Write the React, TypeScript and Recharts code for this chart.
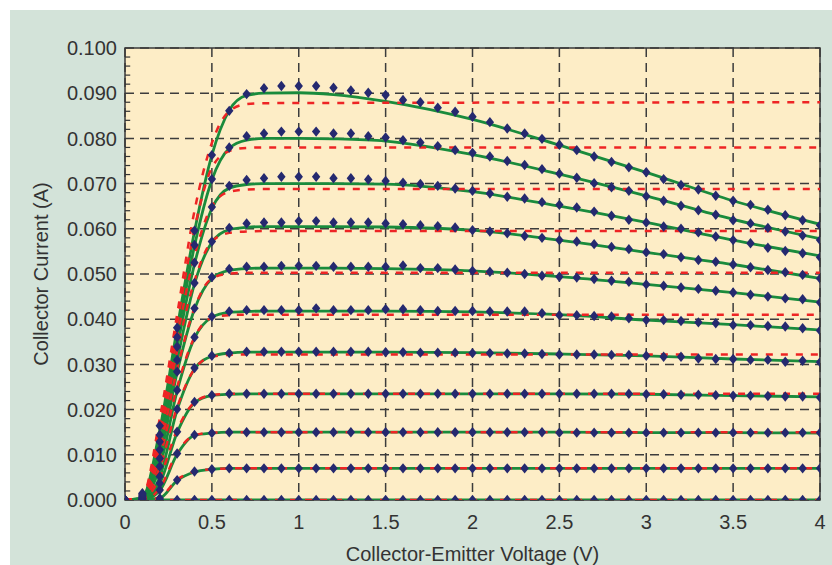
import {
  ComposedChart, Line, Scatter, XAxis, YAxis, CartesianGrid, ReferenceArea, ReferenceLine,
} from 'recharts';

// measured points, every 0.1 V
const VCE = [
  0, 0.1, 0.2, 0.3, 0.4, 0.5, 0.6, 0.7, 0.8, 0.9,
  1.0, 1.1, 1.2, 1.3, 1.4, 1.5, 1.6, 1.7, 1.8, 1.9,
  2.0, 2.1, 2.2, 2.3, 2.4, 2.5, 2.6, 2.7, 2.8, 2.9,
  3.0, 3.1, 3.2, 3.3, 3.4, 3.5, 3.6, 3.7, 3.8, 3.9,
  4.0,
];

const MEAS_C10 = [
  0, 0.0015, 0.0164, 0.0381, 0.0596, 0.0763, 0.0861, 0.0898, 0.0911, 0.0916,
  0.0916, 0.0916, 0.0912, 0.0906, 0.0901, 0.0896, 0.0885, 0.0880, 0.0868, 0.0859,
  0.0848, 0.0836, 0.0822, 0.0811, 0.0799, 0.0786, 0.0774, 0.0760, 0.0748, 0.0736,
  0.0725, 0.0710, 0.0697, 0.0687, 0.0673, 0.0662, 0.0653, 0.0642, 0.0630, 0.0619,
  0.0608,
];
const MEAS_C9 = [
  0, 0.0013, 0.0144, 0.0360, 0.0564, 0.0710, 0.0780, 0.0805, 0.0811, 0.0815,
  0.0815, 0.0815, 0.0811, 0.0811, 0.0805, 0.0802, 0.0796, 0.0791, 0.0783, 0.0774,
  0.0768, 0.0760, 0.0750, 0.0741, 0.0732, 0.0722, 0.0713, 0.0701, 0.0692, 0.0684,
  0.0672, 0.0662, 0.0651, 0.0641, 0.0631, 0.0619, 0.0612, 0.0602, 0.0594, 0.0585,
  0.0575,
];
const MEAS_C8 = [
  0, 0.0011, 0.0129, 0.0339, 0.0525, 0.0648, 0.0695, 0.0708, 0.0712, 0.0715,
  0.0715, 0.0715, 0.0712, 0.0712, 0.0709, 0.0706, 0.0702, 0.0699, 0.0695, 0.0689,
  0.0684, 0.0678, 0.0671, 0.0667, 0.0659, 0.0653, 0.0647, 0.0638, 0.0629, 0.0620,
  0.0614, 0.0605, 0.0600, 0.0592, 0.0583, 0.0575, 0.0568, 0.0558, 0.0551, 0.0546,
  0.0537,
];
const MEAS_C7 = [
  0, 0.0009, 0.0111, 0.0310, 0.0480, 0.0572, 0.0602, 0.0612, 0.0614, 0.0614,
  0.0617, 0.0617, 0.0614, 0.0614, 0.0614, 0.0612, 0.0610, 0.0608, 0.0606, 0.0603,
  0.0597, 0.0594, 0.0590, 0.0584, 0.0580, 0.0575, 0.0572, 0.0566, 0.0560, 0.0555,
  0.0548, 0.0544, 0.0537, 0.0531, 0.0527, 0.0521, 0.0515, 0.0509, 0.0504, 0.0498,
  0.0490,
];
const MEAS_C6 = [
  0, 0.0007, 0.0092, 0.0284, 0.0424, 0.0493, 0.0511, 0.0516, 0.0516, 0.0518,
  0.0518, 0.0518, 0.0516, 0.0516, 0.0516, 0.0516, 0.0519, 0.0513, 0.0513, 0.0510,
  0.0507, 0.0505, 0.0503, 0.0500, 0.0496, 0.0494, 0.0492, 0.0489, 0.0485, 0.0483,
  0.0477, 0.0474, 0.0470, 0.0467, 0.0463, 0.0459, 0.0454, 0.0450, 0.0446, 0.0444,
  0.0437,
];
const MEAS_C5 = [
  0, 0.0005, 0.0074, 0.0243, 0.0360, 0.0406, 0.0417, 0.0420, 0.0420, 0.0420,
  0.0420, 0.0424, 0.0420, 0.0420, 0.0420, 0.0422, 0.0422, 0.0420, 0.0418, 0.0418,
  0.0418, 0.0417, 0.0417, 0.0417, 0.0413, 0.0409, 0.0409, 0.0407, 0.0406, 0.0402,
  0.0398, 0.0398, 0.0396, 0.0393, 0.0391, 0.0387, 0.0387, 0.0385, 0.0384, 0.0380,
  0.0375,
];
const MEAS_C4 = [
  0, 0.0004, 0.0052, 0.0201, 0.0292, 0.0319, 0.0325, 0.0328, 0.0328, 0.0328,
  0.0328, 0.0328, 0.0328, 0.0328, 0.0328, 0.0327, 0.0327, 0.0326, 0.0326, 0.0326,
  0.0325, 0.0325, 0.0324, 0.0324, 0.0323, 0.0322, 0.0322, 0.0322, 0.0321, 0.0321,
  0.0319, 0.0317, 0.0317, 0.0313, 0.0312, 0.0312, 0.0310, 0.0310, 0.0306, 0.0308,
  0.0305,
];
const MEAS_C3 = [
  0, 0.0003, 0.0037, 0.0151, 0.0217, 0.0232, 0.0235, 0.0235, 0.0235, 0.0235,
  0.0235, 0.0235, 0.0235, 0.0235, 0.0235, 0.0235, 0.0235, 0.0235, 0.0235, 0.0235,
  0.0235, 0.0235, 0.0235, 0.0235, 0.0235, 0.0235, 0.0235, 0.0235, 0.0235, 0.0235,
  0.0234, 0.0234, 0.0233, 0.0233, 0.0232, 0.0231, 0.0231, 0.0230, 0.0229, 0.0229,
  0.0227,
];
const MEAS_C2 = [
  0, 0.0002, 0.0022, 0.0103, 0.0144, 0.0148, 0.0150, 0.0150, 0.0150, 0.0150,
  0.0150, 0.0150, 0.0150, 0.0150, 0.0150, 0.0150, 0.0150, 0.0150, 0.0150, 0.0150,
  0.0150, 0.0150, 0.0150, 0.0150, 0.0150, 0.0149, 0.0149, 0.0149, 0.0149, 0.0149,
  0.0149, 0.0149, 0.0149, 0.0149, 0.0149, 0.0149, 0.0149, 0.0149, 0.0149, 0.0149,
  0.0149,
];
const MEAS_C1 = [
  0, 0.0001, 0.0004, 0.0044, 0.0063, 0.0068, 0.0070, 0.0070, 0.0070, 0.0070,
  0.0070, 0.0070, 0.0070, 0.0070, 0.0070, 0.0070, 0.0070, 0.0070, 0.0070, 0.0070,
  0.0070, 0.0070, 0.0070, 0.0070, 0.0070, 0.0070, 0.0070, 0.0070, 0.0070, 0.0070,
  0.0070, 0.0070, 0.0070, 0.0070, 0.0070, 0.0070, 0.0070, 0.0070, 0.0070, 0.0070,
  0.0070,
];
const MEAS_C0 = [
  0, 0, 0, 0, 0, 0, 0, 0, 0, 0,
  0, 0, 0, 0, 0, 0, 0, 0, 0, 0,
  0, 0, 0, 0, 0, 0, 0, 0, 0, 0,
  0, 0, 0, 0, 0, 0, 0, 0, 0, 0,
  0,
];

// green model curves
const GREEN_VCE = [0, 0.1, 0.2, 0.3, 0.4, 0.5, 0.6, 0.7, 0.8, 1.0, 1.2, 1.5, 2.0, 2.5, 3.0, 3.5, 4.0];
const GREEN_C10 = [0, 0.0005, 0.0155, 0.0380, 0.0594, 0.0763, 0.0862, 0.0895, 0.0900, 0.0901, 0.0897, 0.0882, 0.0842, 0.0785, 0.0725, 0.0662, 0.0610];
const GREEN_C9 = [0, 0.0004, 0.0142, 0.0358, 0.0562, 0.0708, 0.0778, 0.0796, 0.0800, 0.0800, 0.0799, 0.0794, 0.0764, 0.0721, 0.0673, 0.0621, 0.0578];
const GREEN_C8 = [0, 0.0003, 0.0127, 0.0337, 0.0522, 0.0645, 0.0690, 0.0698, 0.0700, 0.0700, 0.0700, 0.0699, 0.0682, 0.0650, 0.0614, 0.0575, 0.0540];
const GREEN_C7 = [0, 0.0003, 0.0110, 0.0308, 0.0478, 0.0570, 0.0598, 0.0603, 0.0605, 0.0605, 0.0605, 0.0604, 0.0597, 0.0575, 0.0548, 0.0521, 0.0490];
const GREEN_C6 = [0, 0.0002, 0.0091, 0.0282, 0.0422, 0.0490, 0.0508, 0.0512, 0.0513, 0.0513, 0.0513, 0.0512, 0.0507, 0.0494, 0.0477, 0.0459, 0.0438];
const GREEN_C5 = [0, 0.0002, 0.0073, 0.0241, 0.0358, 0.0404, 0.0415, 0.0417, 0.0418, 0.0418, 0.0418, 0.0418, 0.0416, 0.0410, 0.0398, 0.0388, 0.0376];
const GREEN_C4 = [0, 0.0001, 0.0051, 0.0199, 0.0290, 0.0318, 0.0325, 0.0327, 0.0327, 0.0327, 0.0327, 0.0327, 0.0326, 0.0323, 0.0319, 0.0312, 0.0306];
const GREEN_C3 = [0, 0.0001, 0.0036, 0.0149, 0.0215, 0.0231, 0.0234, 0.0235, 0.0235, 0.0235, 0.0235, 0.0235, 0.0235, 0.0235, 0.0234, 0.0231, 0.0228];
const GREEN_C2 = [0, 0, 0.0021, 0.0101, 0.0143, 0.0148, 0.0150, 0.0150, 0.0150, 0.0150, 0.0150, 0.0150, 0.0150, 0.0150, 0.0149, 0.0149, 0.0148];
const GREEN_C1 = [0, 0, 0.0004, 0.0043, 0.0062, 0.0068, 0.0070, 0.0070, 0.0070, 0.0070, 0.0070, 0.0070, 0.0070, 0.0070, 0.0070, 0.0070, 0.0070];
const GREEN_C0 = [0, 0, 0, 0, 0, 0, 0, 0, 0, 0, 0, 0, 0, 0, 0, 0, 0];

// red dashed model curves
const RED_VCE = [0, 0.1, 0.2, 0.3, 0.4, 0.5, 0.6, 0.7, 0.8, 4.0];
const RED_C10 = [0, 0.0008, 0.0180, 0.0410, 0.0640, 0.0790, 0.0860, 0.0876, 0.0878, 0.0880];
const RED_C9 = [0, 0.0007, 0.0165, 0.0390, 0.0600, 0.0735, 0.0772, 0.0779, 0.0780, 0.0780];
const RED_C8 = [0, 0.0006, 0.0150, 0.0360, 0.0540, 0.0650, 0.0682, 0.0687, 0.0688, 0.0688];
const RED_C7 = [0, 0.0005, 0.0135, 0.0330, 0.0485, 0.0572, 0.0591, 0.0594, 0.0595, 0.0595];
const RED_C6 = [0, 0.0004, 0.0115, 0.0290, 0.0425, 0.0490, 0.0501, 0.0503, 0.0503, 0.0503];
const RED_C5 = [0, 0.0003, 0.0095, 0.0250, 0.0360, 0.0403, 0.0409, 0.0410, 0.0410, 0.0410];
const RED_C4 = [0, 0.0002, 0.0072, 0.0205, 0.0290, 0.0317, 0.0321, 0.0322, 0.0322, 0.0322];
const RED_C3 = [0, 0.0001, 0.0050, 0.0155, 0.0216, 0.0232, 0.0235, 0.0235, 0.0235, 0.0235];
const RED_C2 = [0, 0, 0.0026, 0.0105, 0.0143, 0.0149, 0.0150, 0.0150, 0.0150, 0.0150];
const RED_C1 = [0, 0, 0.0006, 0.0045, 0.0063, 0.0068, 0.0070, 0.0070, 0.0070, 0.0070];
const RED_C0 = [0, 0, 0, 0, 0, 0, 0, 0, 0, 0];

const X_TICKS = [0, 0.5, 1, 1.5, 2, 2.5, 3, 3.5, 4];
const Y_TICKS = [0, 0.01, 0.02, 0.03, 0.04, 0.05, 0.06, 0.07, 0.08, 0.09, 0.1];
const Y_MINOR = [
  0.002, 0.004, 0.006, 0.008, 0.012, 0.014, 0.016, 0.018,
  0.022, 0.024, 0.026, 0.028, 0.032, 0.034, 0.036, 0.038,
  0.042, 0.044, 0.046, 0.048, 0.052, 0.054, 0.056, 0.058,
  0.062, 0.064, 0.066, 0.068, 0.072, 0.074, 0.076, 0.078,
  0.082, 0.084, 0.086, 0.088, 0.092, 0.094, 0.096, 0.098,
];
const MINOR_TICK_LEN = 0.03; // in volts, a few px into the plot

const MEAS = [MEAS_C0, MEAS_C1, MEAS_C2, MEAS_C3, MEAS_C4, MEAS_C5, MEAS_C6, MEAS_C7, MEAS_C8, MEAS_C9, MEAS_C10];
const GREEN = [GREEN_C0, GREEN_C1, GREEN_C2, GREEN_C3, GREEN_C4, GREEN_C5, GREEN_C6, GREEN_C7, GREEN_C8, GREEN_C9, GREEN_C10];
const RED = [RED_C0, RED_C1, RED_C2, RED_C3, RED_C4, RED_C5, RED_C6, RED_C7, RED_C8, RED_C9, RED_C10];

const toPoints = (xs: number[], ys: number[]) => xs.map((x, i) => ({ x, y: ys[i] }));

const FONT = '"Liberation Sans", Arial, Helvetica, sans-serif';

const Diamond = (props: any) => {
  const { cx, cy } = props;
  if (cx == null || cy == null) return null;
  return (
    <polygon
      points={`${cx},${cy - 5.2} ${cx + 4.2},${cy} ${cx},${cy + 5.2} ${cx - 4.2},${cy}`}
      fill="#25296f"
    />
  );
};

export default function App() {
  return (
    <div style={{ position: 'absolute', left: 0, top: 0, width: 832, height: 565, background: '#fff', overflow: 'hidden' }}>
      <div style={{ position: 'absolute', left: 10, top: 10, width: 822, height: 555, background: '#d3e3d9' }}>
        <ComposedChart width={822} height={555} margin={{ top: 38, right: 12, bottom: 0, left: 0 }}>
          <CartesianGrid
            fill="#fdedc6"
            stroke="#3c3c3c"
            strokeDasharray="9 6"
            strokeWidth={1.5}
          />
          <XAxis
            type="number"
            dataKey="x"
            domain={[0, 4]}
            ticks={X_TICKS}
            allowDataOverflow
            height={65}
            tickSize={0}
            tickMargin={15}
            axisLine={false}
            tickLine={false}
            tick={{ fill: '#333', fontSize: 20, fontFamily: FONT }}
            label={{
              value: 'Collector-Emitter Voltage (V)',
              position: 'insideBottom',
              offset: 4,
              style: { fill: '#333', fontSize: 20, fontFamily: FONT },
            }}
          />
          <YAxis
            type="number"
            dataKey="y"
            domain={[0, 0.1]}
            ticks={Y_TICKS}
            allowDataOverflow
            width={115}
            tickSize={0}
            tickMargin={8}
            axisLine={false}
            tickLine={false}
            tickFormatter={(v: number) => v.toFixed(3)}
            tick={{ fill: '#333', fontSize: 20, fontFamily: FONT }}
            label={{
              value: 'Collector Current (A)',
              angle: -90,
              position: 'insideLeft',
              offset: 31,
              style: { fill: '#333', fontSize: 20, fontFamily: FONT, textAnchor: 'middle' },
            }}
          />

          {Y_MINOR.map((v) => (
            <ReferenceLine
              key={`t${v}`}
              segment={[{ x: 0, y: v }, { x: MINOR_TICK_LEN, y: v }]}
              stroke="#333"
              strokeWidth={1.2}
            />
          ))}

          {GREEN.map((ys, i) => (
            <Line
              key={`g${i}`}
              data={toPoints(GREEN_VCE, ys)}
              dataKey="y"
              type="monotone"
              stroke="#1a8b3c"
              strokeWidth={2.8}
              dot={false}
              activeDot={false}
              isAnimationActive={false}
            />
          ))}
          {RED.map((ys, i) => (
            <Line
              key={`r${i}`}
              data={toPoints(RED_VCE, ys)}
              dataKey="y"
              type="monotone"
              stroke="#ee2424"
              strokeWidth={2.5}
              strokeDasharray="7 8"
              dot={false}
              activeDot={false}
              isAnimationActive={false}
            />
          ))}
          {MEAS.map((ys, i) => (
            <Scatter
              key={`m${i}`}
              data={toPoints(VCE, ys)}
              dataKey="y"
              shape={<Diamond />}
              isAnimationActive={false}
            />
          ))}

          <ReferenceArea x1={0} x2={4} y1={0} y2={0.1} fill="none" stroke="#3a3a3a" strokeWidth={1.5} />
        </ComposedChart>
      </div>
    </div>
  );
}
